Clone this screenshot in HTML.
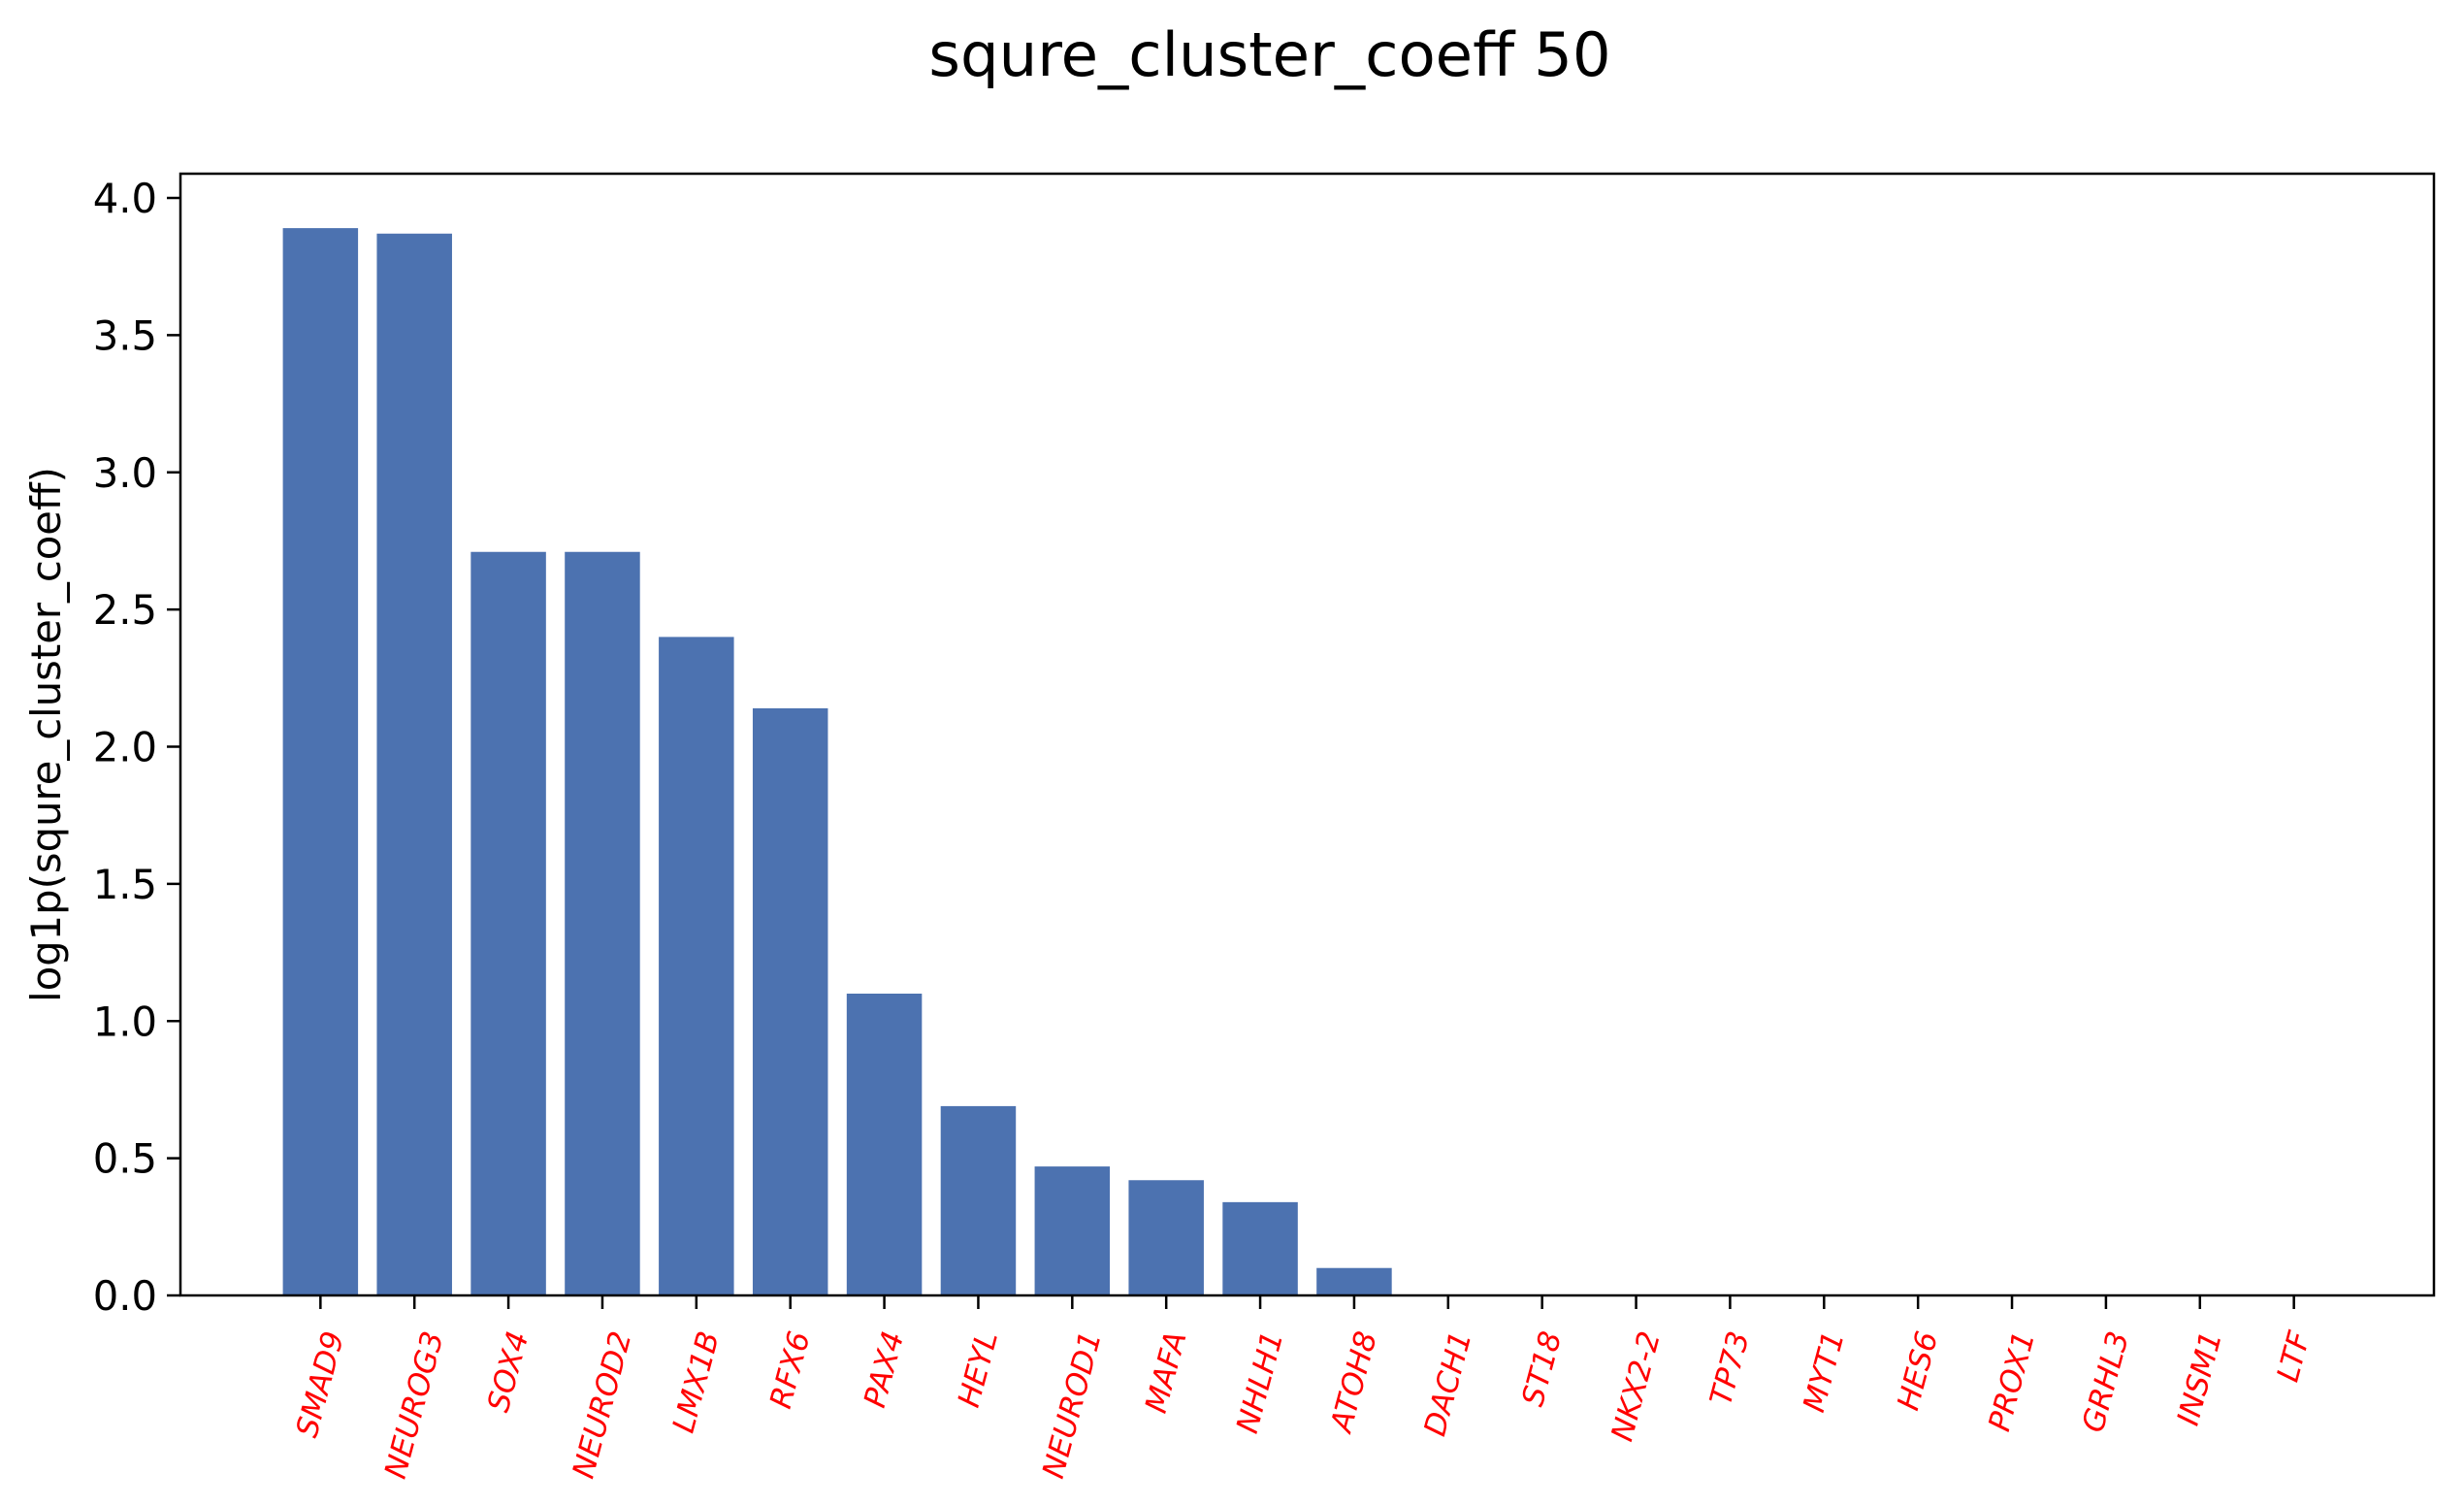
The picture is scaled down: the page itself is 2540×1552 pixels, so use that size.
<!DOCTYPE html>
<html><head><meta charset="utf-8">
<style>
html,body{margin:0;padding:0;background:#fff;}
svg{display:block;font-family:"DejaVu Sans","Liberation Sans",sans-serif;}
</style></head>
<body>
<svg id="chart" width="2540" height="1552" viewBox="0 0 2540 1552" xmlns="http://www.w3.org/2000/svg">
  <rect x="0" y="0" width="2540" height="1552" fill="#fff"/>
  <text x="1309" y="78" font-size="62.5" text-anchor="middle" fill="#000">squre_cluster_coeff 50</text>
  <text x="0" y="0" font-size="41.7" text-anchor="middle" fill="#000" transform="translate(62,757) rotate(-90)">log1p(squre_cluster_coeff)</text>
  <g id="bars"></g>
  <g id="yticks"></g>
  <g id="xticks"></g>
  <rect x="186" y="179" width="2323" height="1156" fill="none" stroke="#000" stroke-width="2.5"/>
</svg>
<script>
const categories = ["SMAD9","NEUROG3","SOX4","NEUROD2","LMX1B","RFX6","PAX4","HEYL","NEUROD1","MAFA","NHLH1","ATOH8","DACH1","ST18","NKX2-2","TP73","MYT1","HES6","PROX1","GRHL3","INSM1","LTF"];
const values = [3.89,3.87,2.71,2.71,2.40,2.14,1.10,0.69,0.47,0.42,0.34,0.10,0,0,0,0,0,0,0,0,0,0];
const yTickValues = [0,0.5,1.0,1.5,2.0,2.5,3.0,3.5,4.0];
const yTickLabels = ["0.0","0.5","1.0","1.5","2.0","2.5","3.0","3.5","4.0"];

const NS = "http://www.w3.org/2000/svg";
const plotL = 186, plotR = 2509, plotT = 179, plotB = 1335;
const n = categories.length;
const xMin = -0.4 - 0.05*(n - 1 + 0.8), xMax = n - 1 + 0.4 + 0.05*(n - 1 + 0.8);
function xScale(i){ return plotL + (i - xMin) / (xMax - xMin) * (plotR - plotL); }
function yScale(v){ return plotB - v / 4.0 * (plotB - 204); }
const step = xScale(1) - xScale(0);

const bars = document.getElementById('bars');
values.forEach((v, i) => {
  if (v <= 0) return;
  const r = document.createElementNS(NS, 'rect');
  
  
  const x = xScale(i) - 0.4*step;
  r.setAttribute('x', x);
  r.setAttribute('width', 0.8*step);
  r.setAttribute('y', yScale(v));
  r.setAttribute('height', yScale(0) - yScale(v));
  r.setAttribute('fill', '#4c72b0');
  bars.appendChild(r);
});

const yt = document.getElementById('yticks');
yTickValues.forEach((v, i) => {
  const y = yScale(v);
  const l = document.createElementNS(NS, 'line');
  
  
  l.setAttribute('x1', plotL - 14); l.setAttribute('x2', plotL);
  l.setAttribute('y1', y); l.setAttribute('y2', y);
  l.setAttribute('stroke', '#000'); l.setAttribute('stroke-width', '2.5');
  yt.appendChild(l);
  const t = document.createElementNS(NS, 'text');
  
  
  t.setAttribute('x', plotL - 24); t.setAttribute('y', y + 15);
  t.setAttribute('font-size', '41.7'); t.setAttribute('text-anchor', 'end');
  t.textContent = yTickLabels[i];
  yt.appendChild(t);
});

const xt = document.getElementById('xticks');
categories.forEach((c, i) => {
  const x = xScale(i);
  const l = document.createElementNS(NS, 'line');
  
  
  l.setAttribute('x1', x); l.setAttribute('x2', x);
  l.setAttribute('y1', plotB); l.setAttribute('y2', plotB + 14);
  l.setAttribute('stroke', '#000'); l.setAttribute('stroke-width', '2.5');
  xt.appendChild(l);
  const t = document.createElementNS(NS, 'text');
  
  
  t.setAttribute('font-size', '31');
  t.setAttribute('font-style', 'italic');
  t.setAttribute('fill', '#ff0000');
  t.setAttribute('text-anchor', 'end');
  t.setAttribute('dominant-baseline', 'central');
  t.textContent = c;
  xt.appendChild(t);
  const L = t.getComputedTextLength();
  const ex = x + 0.13 * L;
  const ey = plotB + 38;
  t.setAttribute('transform', 'translate(' + ex + ',' + ey + ') rotate(-75)');
});
</script>
</body></html>
